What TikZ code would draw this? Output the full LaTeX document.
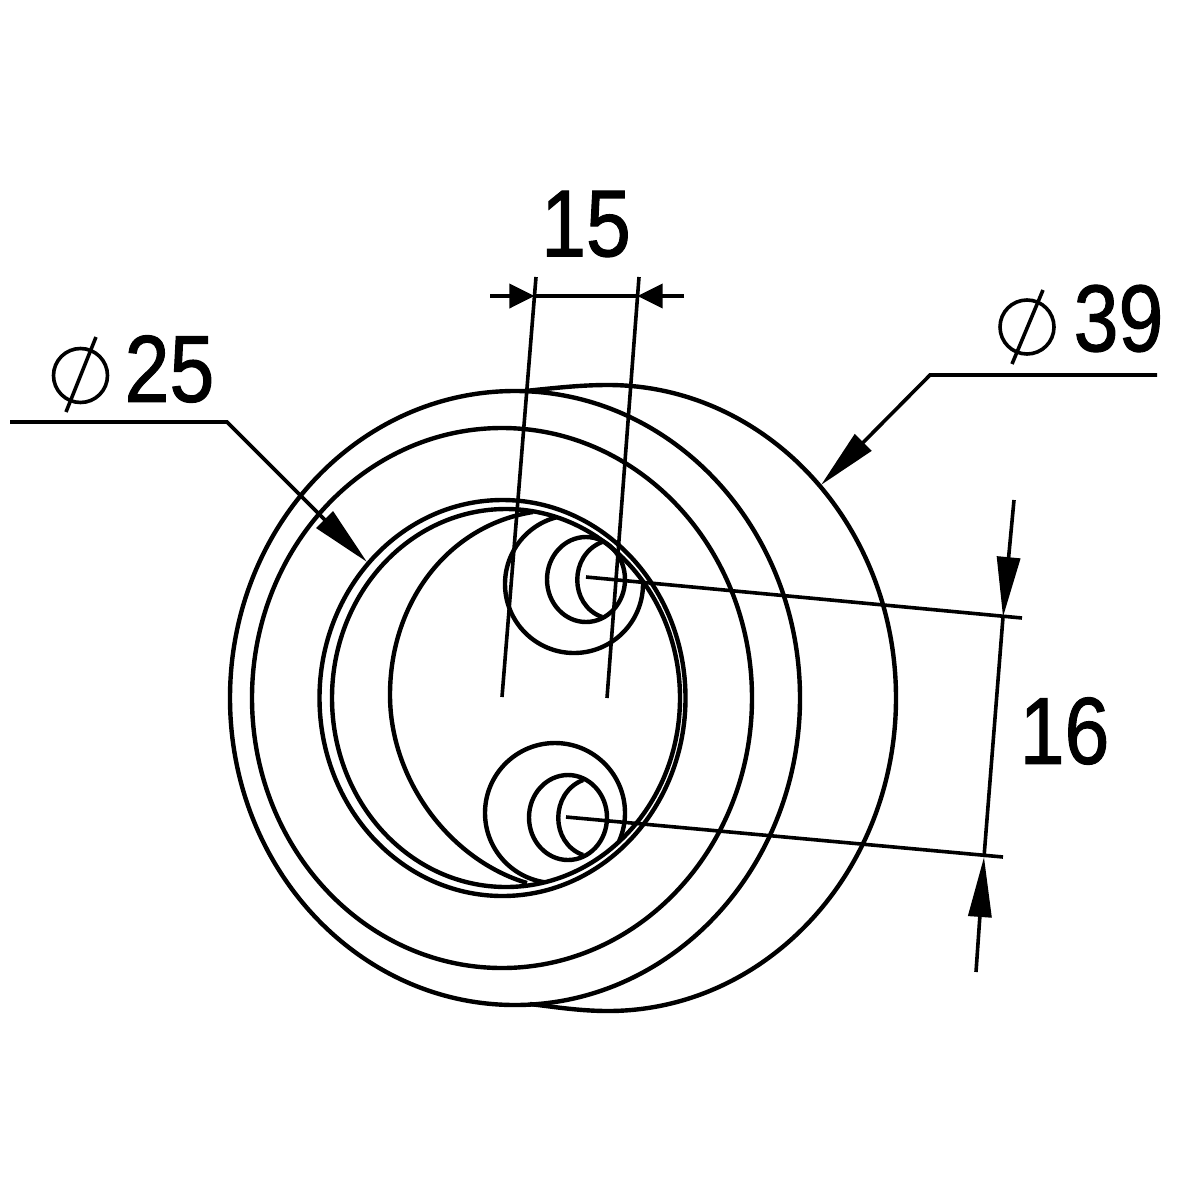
\documentclass[tikz,border=0pt]{standalone}
\usepackage{fontspec}
\setmainfont{Liberation Sans}
\newfontfamily\dimfont[FakeBold=1.2]{Liberation Sans}
\usetikzlibrary{arrows.meta}

\tikzset{
  part/.style={line width=0.44mm},
  thin line/.style={line width=0.36mm},
  dimtip/.style={thin line,-{Triangle[length=6mm,width=2.3mm]}},
  shorttip/.style={thin line,-{Triangle[length=2.5mm,width=2.4mm]}},
  dimtext/.style={font=\dimfont\fontsize{27pt}{27pt}\selectfont,xscale=0.85,inner sep=0pt}
}

\begin{document}
\begin{tikzpicture}[x=0.01cm,y=-0.01cm]
        \useasboundingbox (0,0) rectangle (1200,1200);

        % body
        \draw[part] (525,391) .. controls (555,388) and (580,385) .. (608,385)
            .. controls (767,385) and (896,525) .. (896,698)
            .. controls (896,871) and (767,1011) .. (608,1011)
            .. controls (580,1011) and (555,1007) .. (530,1004);
        \draw[part] (515,698) ellipse (285 and 307);
        \draw[part] (502,698) ellipse (250 and 270);
        \draw[part] (502.5,698) ellipse (183 and 198);
        \draw[part] (506,698) ellipse (174 and 189);

        % holes
        \begin{scope}
            \clip (506,698) ellipse (174 and 189);
            \draw[part] (574,584) circle (69);
            \draw[part] (555,813) circle (70);
        \end{scope}
        \draw[part] (533,512) .. controls (450,525) and (390,600) .. (390,695)
            .. controls (390,780) and (450,860) .. (527,883);
        \draw[part] (586,579.5) ellipse (39 and 42.5);
        \draw[part] (602,542) .. controls (569,555) and (569,605) .. (602,617);
        \draw[part] (568,817.5) ellipse (39 and 42.5);
        \draw[part] (583,780) .. controls (550,793) and (550,843) .. (583,855);

        % 15
        \coordinate (ext1) at (536,277);
        \coordinate (ext2) at (639,277);
        \coordinate (tip1) at (534.5,296);
        \coordinate (tip2) at (637.5,296);
        \draw[thin line] (ext1) -- (502,697);
        \draw[thin line] (ext2) -- (607,698);
        \draw[thin line] (tip1) -- (tip2);
        \draw[shorttip] (490,296) -- (tip1);
        \draw[shorttip] (684,296) -- (tip2);
        \node[dimtext] (label15) at (586,224) {15};

        % 16
        \coordinate (tip3) at (1003,617);
        \coordinate (tip4) at (984,857);
        \draw[thin line] (586,577) -- (1022,618);
        \draw[thin line] (566,817) -- (1003,857);
        \draw[thin line] (tip3) -- (tip4);
        \draw[dimtip] (1014,500) -- (tip3);
        \draw[dimtip] (976,972) -- (tip4);
        \node[dimtext] (label16) at (1064.5,731) {16};

        % dia 25
        \draw[thin line] (80.5,375.5) circle (27);
        \draw[thin line] (96,337) -- (66,412);
        \node[dimtext] (label25) at (169.5,369) {25};
        \draw[dimtip] (10,422) -- (227,422) -- (367,562);

        % dia 39
        \draw[thin line] (1027,327) circle (27);
        \draw[thin line] (1043,290) -- (1012,364);
        \node[dimtext] (label39) at (1118.5,318.5) {39};
        \draw[dimtip] (1157,375) -- (930,375) -- (821,485);
\end{tikzpicture}
\end{document}
